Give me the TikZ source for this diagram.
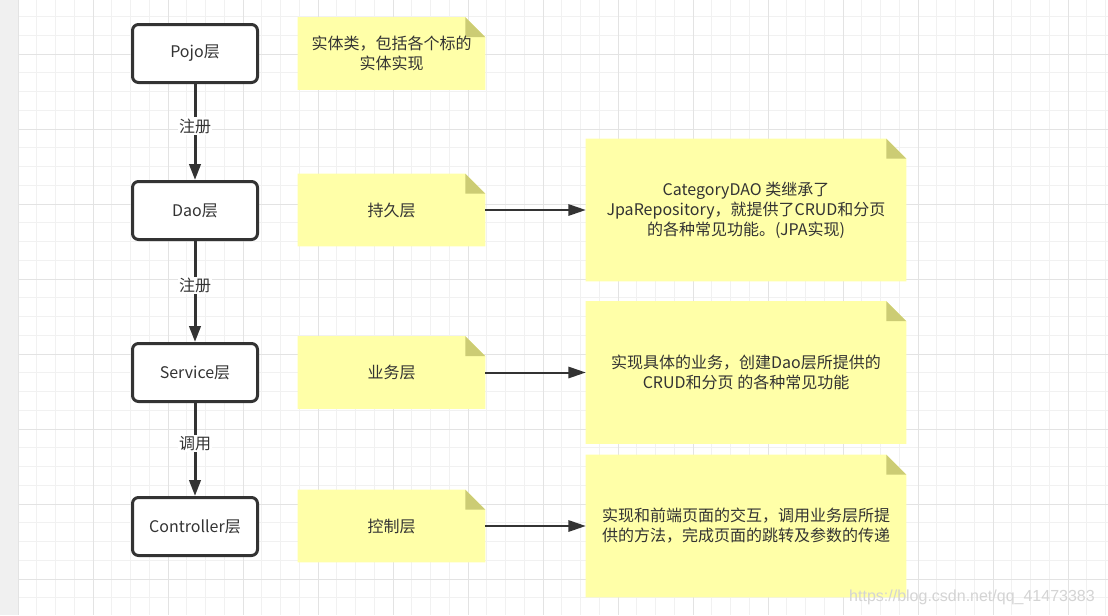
\documentclass[tikz,border=0pt]{standalone}
\usepackage{fontspec}
\setmainfont{Noto Sans CJK SC}
\newfontfamily\wmfont{Liberation Sans}
\usetikzlibrary{arrows.meta}
\definecolor{ink}{HTML}{333333}
\definecolor{notefill}{RGB}{255,255,168}
\definecolor{foldfill}{RGB}{204,204,116}
\definecolor{gridminor}{HTML}{F1F1F1}
\definecolor{gridmajor}{HTML}{E3E3E3}
\definecolor{sidebar}{HTML}{F0F0F0}
\definecolor{wmgray}{HTML}{D4D4D4}
\pgfdeclarelayer{gridlayer}
\pgfdeclarelayer{notelayer}
\pgfsetlayers{gridlayer,notelayer,main}
\newcommand\notebg[1]{%
  \begin{pgfonlayer}{notelayer}
    \fill[notefill] (#1.south west) -- (#1.north west) -- ([xshift=-15pt]#1.north east)
      -- ([yshift=-15pt]#1.north east) -- (#1.south east) -- cycle;
    \fill[foldfill] ([xshift=-15pt]#1.north east) -- ([xshift=-15pt,yshift=-15pt]#1.north east)
      -- ([yshift=-15pt]#1.north east) -- cycle;
  \end{pgfonlayer}}
\begin{document}
\begin{tikzpicture}[x=0.75pt,y=-0.75pt,
  every node/.style={font=\fontsize{12}{15}\selectfont, text=ink},
  layer/.style={draw=ink, line width=2.25pt, rounded corners=4.5pt, fill=white,
    minimum width=93.75pt, minimum height=43.5pt, inner sep=0pt},
  smallnote/.style={inner sep=0pt, align=center, minimum width=140.25pt, minimum height=54pt},
  bignote/.style={inner sep=0pt, align=center, minimum width=240pt, minimum height=106.5pt},
  varrow/.style={draw=ink, line width=2.25pt, -{Triangle[length=12pt,width=8.5pt]}},
  harrow/.style={draw=ink, line width=1.5pt, -{Triangle[length=13pt,width=8.5pt]}},
  elabel/.style={fill=white, inner sep=1pt, pos=0.44}
]
\useasboundingbox (0,0) rectangle (1108,615);
% background grid
\begin{pgfonlayer}{gridlayer}
  \fill[white] (0,0) rectangle (1108,615);
  \fill[sidebar] (0,0) rectangle (18,615);
  \foreach \k in {0,...,58} \draw[gridminor, line width=0.75pt] ({18+18.75*\k},0) -- ++(0,615);
  \foreach \k in {0,...,31} \draw[gridminor, line width=0.75pt] (18,{16.5+18.75*\k}) -- (1108,{16.5+18.75*\k});
  \foreach \k in {0,...,14} \draw[gridmajor, line width=0.75pt] ({18+75*\k},0) -- ++(0,615);
  \foreach \k in {0,...,7} \draw[gridmajor, line width=0.75pt] (18,{54+75*\k}) -- (1108,{54+75*\k});
\end{pgfonlayer}
% layer boxes
\node[layer] (pojo) at (195,53.5) {Pojo层};
\node[layer] (dao) at (195,210.5) {Dao层};
\node[layer] (service) at (195,372.5) {Service层};
\node[layer] (controller) at (195,526.5) {Controller层};
% left notes
\node[smallnote] (n1) at (391.5,53.5) {实体类，包括各个标的\\实体实现};
\node[smallnote] (n2) at (391.5,210) {持久层};
\node[smallnote] (n3) at (391.5,372.5) {业务层};
\node[smallnote] (n4) at (391.5,526) {控制层};
% right notes
\node[bignote] (na) at (746,210) {CategoryDAO 类继承了\\JpaRepository，就提供了CRUD和分页\\的各种常见功能。(JPA实现)};
\node[bignote] (nb) at (746,372.5) {实现具体的业务，创建Dao层所提供的\\CRUD和分页 的各种常见功能};
\node[bignote] (nc) at (746,526) {实现和前端页面的交互，调用业务层所提\\供的方法，完成页面的跳转及参数的传递};
\notebg{n1}\notebg{n2}\notebg{n3}\notebg{n4}
\notebg{na}\notebg{nb}\notebg{nc}
% connectors
\draw[varrow] (pojo) -- node[elabel]{注册} (dao);
\draw[varrow] (dao) -- node[elabel]{注册} (service);
\draw[varrow] (service) -- node[elabel]{调用} (controller);
\draw[harrow] (n2) -- (na);
\draw[harrow] (n3) -- (nb);
\draw[harrow] (n4) -- (nc);
% watermark
\node[font=\wmfont\fontsize{12}{14}\selectfont, text=wmgray] (wm) at (972,597) {https://blog.csdn.net/qq\_41473383};
\end{tikzpicture}
\end{document}
